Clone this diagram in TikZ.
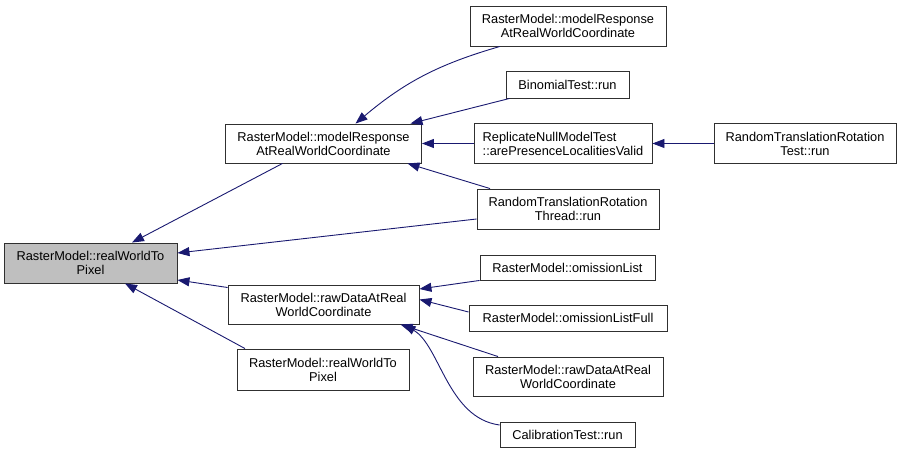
\documentclass[tikz,border=0pt]{standalone}
\usepackage{fontspec}
\setmainfont{Liberation Sans}
\usetikzlibrary{arrows.meta}
\begin{document}
\begin{tikzpicture}[x=1pt,y=-1pt,font=\fontsize{12.8}{14}\selectfont,fn/.style={draw=ink,line width=.9pt,fill=white,inner sep=0pt,align=center},call/.style={draw=navy,line width=.9pt,-{Triangle[length=12pt,width=9pt]}}]
\definecolor{navy}{HTML}{191970}\definecolor{ink}{HTML}{303030}\definecolor{hl}{HTML}{BFBFBF}
\useasboundingbox (0,0) rectangle (901,454);
% callee and first level callers
\node[fn,fill=hl,minimum width=173pt,minimum height=40pt] (pix) at (90.5,263) {RasterModel::realWorldTo\\Pixel};
\node[fn,minimum width=196pt,minimum height=39pt] (resp) at (323.5,143.5) {RasterModel::modelResponse\\AtRealWorldCoordinate};
\node[fn,minimum width=191pt,minimum height=39pt] (raw) at (323.5,304.5) {RasterModel::rawDataAtReal\\WorldCoordinate};
\node[fn,minimum width=172pt,minimum height=41pt] (pix2) at (323,369.5) {RasterModel::realWorldTo\\Pixel};
% second level callers
\node[fn,minimum width=196pt,minimum height=40pt] (resp2) at (568,26) {RasterModel::modelResponse\\AtRealWorldCoordinate};
\node[fn,minimum width=123pt,minimum height=27pt] (binom) at (567.5,84.5) {BinomialTest::run};
\node[fn,minimum width=178pt,minimum height=40pt,align=left] (valid) at (563,143.5) {ReplicateNullModelTest\\::arePresenceLocalitiesValid};
\node[fn,minimum width=182pt,minimum height=40pt] (rtrtest) at (805,143.5) {RandomTranslationRotation\\Test::run};
\node[fn,minimum width=182pt,minimum height=40pt] (rtrthread) at (568,209) {RandomTranslationRotation\\Thread::run};
\node[fn,minimum width=175pt,minimum height=25pt] (omit) at (567.5,267.5) {RasterModel::omissionList};
\node[fn,minimum width=198pt,minimum height=26pt] (omitfull) at (568,318) {RasterModel::omissionListFull};
\node[fn,minimum width=190pt,minimum height=39pt] (raw2) at (568,376.5) {RasterModel::rawDataAtReal\\WorldCoordinate};
\node[fn,minimum width=135pt,minimum height=25pt] (calib) at (567.5,435) {CalibrationTest::run};
% calls
\draw[call] ([xshift=-41pt]resp.south) -- ([xshift=41.5pt]pix.north);\draw[call] ([yshift=-10pt]rtrthread.west) -- ([yshift=10pt]pix.east);\draw[call] ([yshift=17pt]raw.west) -- ([yshift=-17pt]pix.east);\draw[call] ([xshift=-78pt]pix2.north) -- ([xshift=34.5pt]pix.south);
\draw[call] ([xshift=-68pt]resp2.south) to[bend right=12] ([xshift=32pt]resp.north);\draw[call] ([xshift=4pt]binom.south west) -- ([xshift=87pt]resp.north);\draw[call] (valid) -- (resp);\draw[call] ([xshift=-78pt]rtrthread.north) -- ([xshift=84pt]resp.south);\draw[call] (rtrtest) -- (valid);
\draw[call] (omit.south west) -- ([yshift=15.5pt]raw.east);\draw[call] ([yshift=6pt]omitfull.west) -- ([yshift=5pt]raw.east);\draw[call] ([xshift=-70pt]raw2.north) -- ([xshift=77pt]raw.south);\draw[call] ([yshift=10pt]calib.west) .. controls +(-52,-7) and +(36.5,21) .. ([xshift=80pt]raw.south);
\end{tikzpicture}
\end{document}
